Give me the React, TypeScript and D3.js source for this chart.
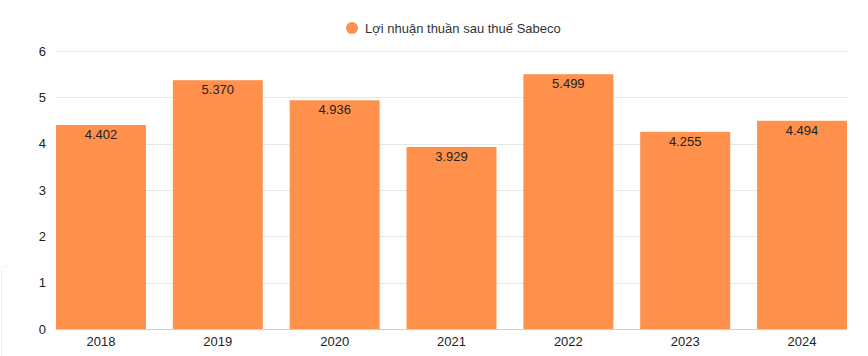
import React from "react";
import * as d3 from "d3";

const categories = ["2018", "2019", "2020", "2021", "2022", "2023", "2024"];
const profitValues = [4.402, 5.37, 4.936, 3.929, 5.499, 4.255, 4.494];
const valueLabels = ["4.402", "5.370", "4.936", "3.929", "5.499", "4.255", "4.494"];
const yTicks = [0, 1, 2, 3, 4, 5, 6];
const seriesName = "Lợi nhuận thuần sau thuế Sabeco";

const W = 868;
const H = 356;
const FONT = "'Liberation Sans', Arial, Helvetica, sans-serif";
const BAR_COLOR = "#ff914d";

export default function App() {
  const x = d3
    .scaleBand<string>()
    .domain(categories)
    .range([56, 847])
    .paddingInner(0.23)
    .paddingOuter(0);
  const y = d3.scaleLinear().domain([0, 6]).range([329, 51]);

  return (
    <svg
      width={W}
      height={H}
      style={{ position: "absolute", left: 0, top: 0, background: "#fff" }}
      fontFamily={FONT}
    >
      <path
        d={`M1.5,356 L1.5,272 Q1.5,266 7.5,266`}
        fill="none"
        stroke="#f0f0f0"
        strokeWidth={1}
      />
      {/* legend */}
      <circle cx={352} cy={28} r={6} fill={BAR_COLOR} />
      <text x={365} y={32.5} fontSize={13} fill="#333">
        {seriesName}
      </text>
      {/* grid */}
      {yTicks.map((t) => (
        <g key={t}>
          <line
            x1={56}
            x2={847}
            y1={Math.round(y(t)) + 0.5}
            y2={Math.round(y(t)) + 0.5}
            stroke={t === 0 ? "#cfcfcf" : "#e6e6e6"}
            strokeWidth={1}
          />
          <text
            x={46}
            y={y(t) + 4.5}
            textAnchor="end"
            fontSize={13}
            fill="#222"
          >
            {t}
          </text>
        </g>
      ))}
      {/* bars */}
      {categories.map((c, i) => {
        const x0 = x(c)!;
        const bw = x.bandwidth();
        const top = y(profitValues[i]);
        return (
          <g key={c}>
            <rect
              x={x0}
              y={top}
              width={bw}
              height={y(0) - top}
              fill={BAR_COLOR}
            />
            <text
              x={x0 + bw / 2}
              y={top + 14}
              textAnchor="middle"
              fontSize={13}
              fill="#222"
            >
              {valueLabels[i]}
            </text>
            <text
              x={x0 + bw / 2}
              y={346}
              textAnchor="middle"
              fontSize={13}
              fill="#222"
            >
              {c}
            </text>
          </g>
        );
      })}
    </svg>
  );
}
